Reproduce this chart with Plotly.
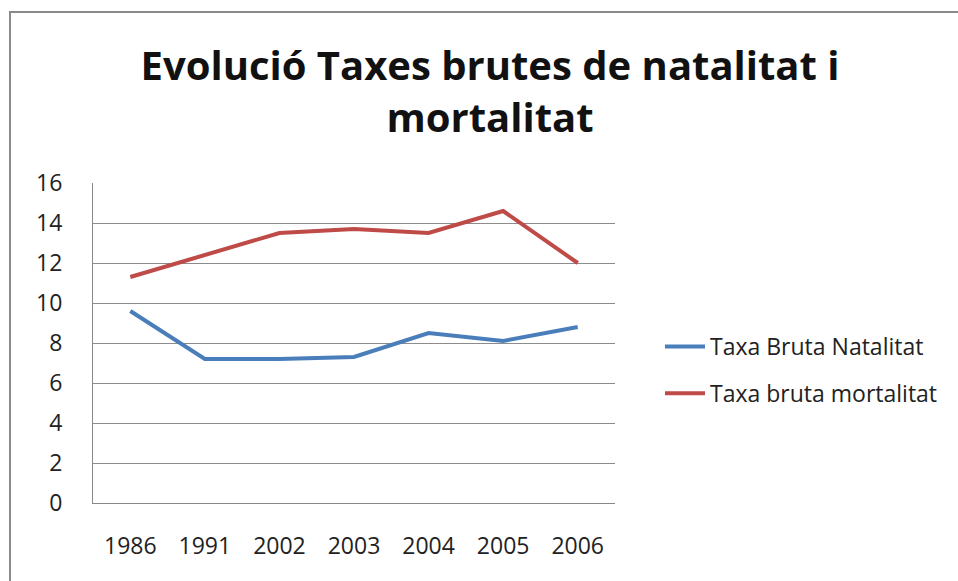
import plotly.graph_objects as go

years = ["1986", "1991", "2002", "2003", "2004", "2005", "2006"]
natalitat = [9.6, 7.2, 7.2, 7.3, 8.5, 8.1, 8.8]
mortalitat = [11.3, 12.4, 13.5, 13.7, 13.5, 14.6, 12.0]
y_ticks = [0, 2, 4, 6, 8, 10, 12, 14, 16]

W, H = 958, 581
L, R, T, B = 93, 615, 183, 503
FONT = "Open Sans"

fig = go.Figure()
fig.add_trace(go.Scatter(x=years, y=natalitat, mode="lines", name="Taxa Bruta Natalitat",
                         line=dict(color="#4A7EBB", width=4), legendgroup="a"))
fig.add_trace(go.Scatter(x=years, y=mortalitat, mode="lines", name="Taxa bruta mortalitat",
                         line=dict(color="#BE4B48", width=4), legendgroup="b"))

pw, ph = R - L, B - T
def px(x):
    return (x - L) / pw
def py(y):
    return (B - y) / ph

fig.update_layout(
    width=W, height=H,
    margin=dict(l=L, r=W - R, t=T, b=H - B, autoexpand=False),
    paper_bgcolor="white", plot_bgcolor="white",
    font=dict(family=FONT, size=23, color="#222222"),
    title=dict(text="<b>Evolució Taxes brutes de natalitat i<br>mortalitat</b>",
               x=490 / W, xanchor="center", y=1 - 80 / H, yanchor="top",
               font=dict(family=FONT, size=40, color="#111111")),
    xaxis=dict(type="category", range=[-0.5, 6.5], showgrid=False, showline=True,
               linecolor="#888888", linewidth=1, ticks="", tickfont=dict(size=23),
               ticklabelstandoff=22, fixedrange=True),
    yaxis=dict(range=[0, 16], tickvals=y_ticks, showgrid=True, gridcolor="#8c8c8c",
               gridwidth=1, showline=True, linecolor="#888888", linewidth=1,
               ticks="", tickfont=dict(size=23), ticklabelstandoff=25, zeroline=False,
               fixedrange=True),
    legend=dict(x=px(660), y=py(370), xanchor="left", yanchor="middle",
                font=dict(family=FONT, size=23), tracegroupgap=14,
                itemwidth=40, bgcolor="rgba(0,0,0,0)"),
    showlegend=True,
    shapes=[
        dict(type="line", xref="paper", yref="paper", x0=px(9), x1=px(958), y0=py(12), y1=py(12),
             line=dict(color="#8a8a8a", width=2)),
        dict(type="line", xref="paper", yref="paper", x0=px(10), x1=px(10), y0=py(11), y1=py(581),
             line=dict(color="#8a8a8a", width=2)),
    ],
)

fig.write_html("out.html", config={"displayModeBar": False},
               post_script="document.body.style.margin='0';")
